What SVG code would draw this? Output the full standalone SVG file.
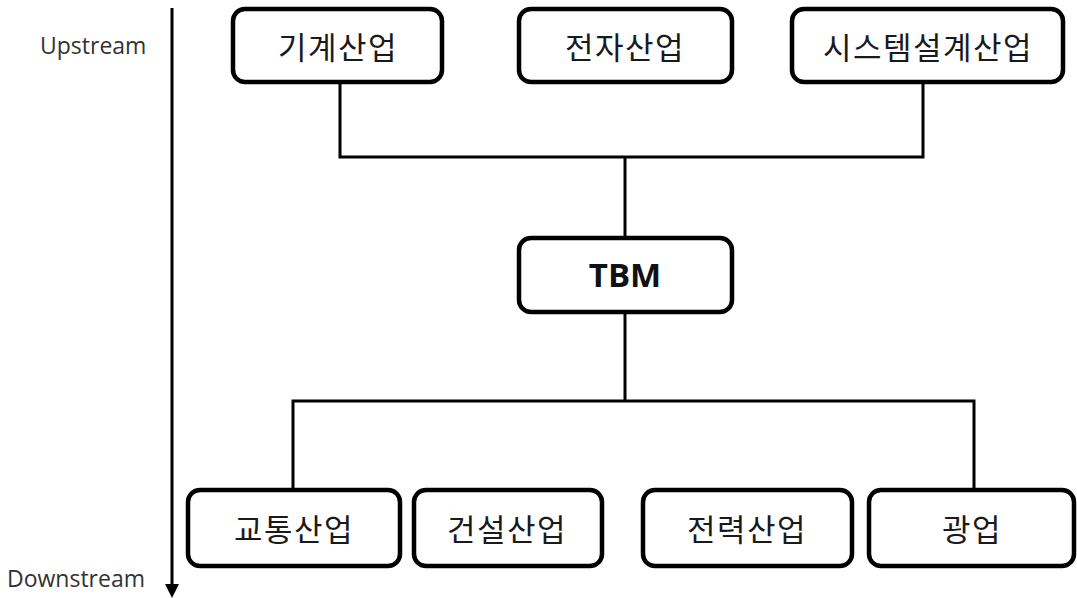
<svg xmlns="http://www.w3.org/2000/svg" width="1077" height="598" viewBox="0 0 1077 598">
<style>
.box{fill:#fff;stroke:#000;stroke-width:4.5}
.kr{font-family:"Noto Sans CJK KR","Noto Sans",sans-serif;font-size:31px;letter-spacing:1.5px;fill:#1a1a1a;text-anchor:middle;dominant-baseline:central}
.lbl{font-family:"Open Sans","Liberation Sans",sans-serif;font-size:23px;fill:#333}
.tbm{font-family:"Open Sans","Liberation Sans",sans-serif;font-size:33px;font-weight:bold;fill:#111;text-anchor:middle;dominant-baseline:central}
.ln{fill:none;stroke:#000;stroke-width:3}
</style>
<rect width="1077" height="598" fill="#fff"/>
<g id="axis">
<line x1="172" y1="8" x2="172" y2="586" stroke="#000" stroke-width="3"/>
<polygon points="165,584 179,584 172,598" fill="#000"/>
<text class="lbl" x="40" y="54">Upstream</text>
<text class="lbl" x="7" y="587">Downstream</text>
</g>
<g id="connectors">
<polyline class="ln" points="340,82 340,157 923,157 923,82"/>
<line class="ln" x1="625" y1="157" x2="625" y2="238"/>
<polyline class="ln" points="293,490 293,401 974,401 974,490"/>
<line class="ln" x1="625" y1="312" x2="625" y2="401"/>
</g>
<g id="n1"><rect class="box" x="233" y="9" width="209" height="73" rx="12"/><text class="kr" x="338" y="45">기계산업</text></g>
<g id="n2"><rect class="box" x="519" y="9" width="213" height="73" rx="12"/><text class="kr" x="625" y="45">전자산업</text></g>
<g id="n3"><rect class="box" x="792" y="9" width="271" height="73" rx="12"/><text class="kr" x="928" y="45">시스템설계산업</text></g>
<g id="tbm"><rect class="box" x="519" y="238" width="213" height="74" rx="12"/><text class="tbm" x="625" y="274">TBM</text></g>
<g id="n4"><rect class="box" x="188" y="490" width="212" height="76" rx="12"/><text class="kr" x="294" y="527">교통산업</text></g>
<g id="n5"><rect class="box" x="414" y="490" width="188" height="76" rx="12"/><text class="kr" x="507" y="527">건설산업</text></g>
<g id="n6"><rect class="box" x="643" y="490" width="209" height="76" rx="12"/><text class="kr" x="747" y="527">전력산업</text></g>
<g id="n7"><rect class="box" x="869" y="490" width="205" height="76" rx="12"/><text class="kr" x="972" y="527">광업</text></g>
</svg>
